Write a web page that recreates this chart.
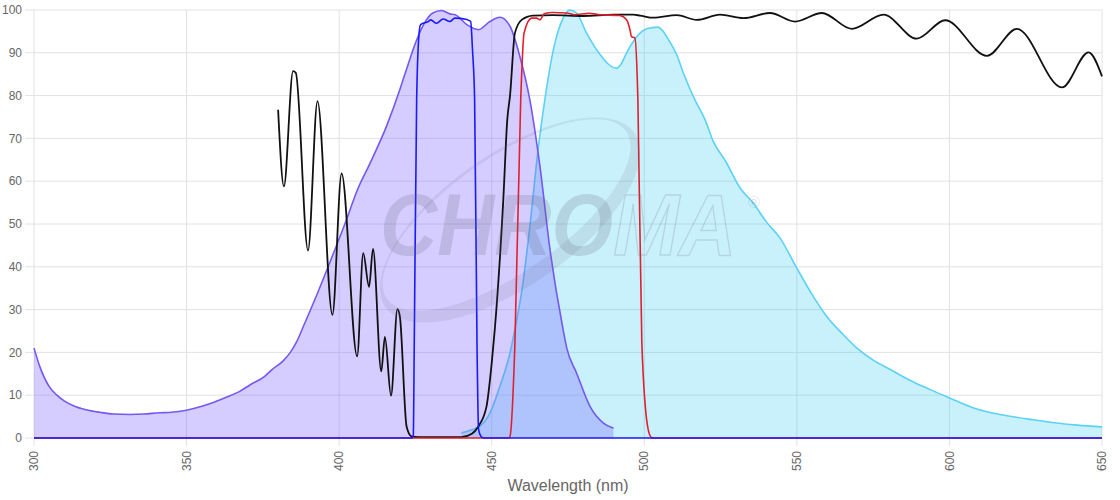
<!DOCTYPE html>
<html>
<head>
<meta charset="utf-8">
<script src="https://cdn.jsdelivr.net/npm/d3@7"></script>
<style>
  body { margin: 0; background: #fff; }
  text { font-family: "Liberation Sans", Arial, sans-serif; }
</style>
</head>
<body>
<script>
const width = 1120;
const height = 500;
const margin = { top: 10, right: 18, bottom: 62, left: 34 };

// [wavelength nm, %]
const excitation = [
  [300, 21], [302, 16.5], [305, 12], [307.5, 10], [310, 8.6], [313.3, 7.4],
  [317, 6.6], [321.6, 6.0], [326, 5.6], [331.4, 5.5], [336, 5.6], [341.2, 5.9],
  [345, 6.0], [350, 6.5], [355, 7.4], [359.2, 8.4], [363, 9.5], [367.4, 10.9],
  [371, 12.5], [375.6, 14.4], [378, 16], [381.5, 17.9], [384, 20], [386.1, 22.5],
  [388.3, 26.1], [393, 34], [397.5, 42], [402.4, 51], [406, 58],
  [410, 64], [415.5, 72.8], [419.9, 81.4], [422, 86], [425.4, 93], [428, 97],
  [430.7, 99.3], [433.6, 99.9], [436.3, 99.1], [438, 98.9], [441.8, 96.6],
  [445.6, 95.4], [449.4, 97.3], [452.7, 98.3], [456, 96.2], [459.2, 89.2],
  [462.5, 79], [465.8, 63.5], [469.1, 44], [473.4, 25.3], [474.6, 21],
  [477.8, 15.2], [482.2, 7.4], [486.6, 3.5], [489.9, 2.3],
];

const emission = [
  [440.1, 1.2], [443, 1.8], [446.1, 2.7], [449.4, 5.8], [452.7, 12.1], [456, 19.9],
  [457.6, 25.3], [460, 35], [462.5, 49.4], [465.2, 67.4], [467.4, 79], [470.2, 90.7],
  [473.4, 98.1], [475.6, 100], [477.8, 99.3], [481.1, 94.6], [485.5, 89.6],
  [488, 87.5], [490.9, 86.4], [492.5, 87.5], [494.2, 90], [498.6, 94.6],
  [500.8, 95.6], [504.6, 96], [505.7, 95.4], [508, 93], [510.6, 89.6],
  [512.8, 85.3], [516.6, 79], [519.9, 74.4], [522.6, 69.3], [526.7, 64.6],
  [531.4, 58.4], [535.7, 54.9], [540, 50.5], [544.5, 46.7], [550, 39.7],
  [555, 33.5], [559.8, 28.4], [565, 24.3], [569.7, 21], [575, 18.2], [580.6, 16],
  [587, 13.5], [593.7, 11.3], [600.2, 9.3], [607.9, 7], [613, 6], [618.8, 5.2],
  [627, 4.3], [635.2, 3.5], [642, 3.0], [650, 2.6],
];

const exciterFilter = [
  [300, 0], [423.8, 0], [424.3, 0.5], [424.6, 20.6], [425.4, 79], [426.2, 94.6],
  [426.7, 96.6], [429.2, 97.3], [430, 97.7], [431.9, 96.9], [434.1, 97.9],
  [436.3, 97.3], [437.9, 98.1], [441.8, 97.8], [443.1, 97.3], [443.7, 90.7],
  [444.4, 79], [445.2, 20.6], [445.7, 2], [446.7, 0.2], [447.5, 0], [650, 0],
];

const dichroic = [
  [380, 76.7], [381.9, 58.8], [384.9, 85.7], [385.8, 85.3], [389.8, 43.8],
  [392.9, 78.7], [397.8, 28.8], [400.8, 61.8], [405.9, 19.1], [407.9, 43.2],
  [409.8, 35.3], [411.1, 44.2], [413.8, 15.6], [415, 23.6], [417, 9.9],
  [419.1, 30.1], [419.9, 28.4], [422.1, 2.7], [423.7, 0.4], [426, 0.2],
  [440, 0.2], [443.5, 1], [445.6, 2.7], [448.3, 7.4], [450, 17.5], [451, 25.3],
  [453.8, 55.7], [455.1, 74.4], [456, 80], [457.6, 94.6], [459.8, 97.7],
  [463.5, 98.7], [470, 98.8], [480, 98.6], [490, 98.9], [496.4, 98.9],
  [498.6, 98.7], [503, 98.2], [510.6, 98.8], [517.2, 97.7], [524.8, 98.9],
  [532.5, 98.1], [541.2, 99.3], [549.4, 97.3], [558.2, 99.3], [568, 95.6],
  [578.4, 98.9], [589.3, 93.3], [598.6, 97.6], [612.3, 89.3], [622.1, 95.6],
  [636.9, 81.9], [645.6, 90.1], [650, 84.5],
];

const emitterFilter = [
  [300, 0], [455.5, 0], [456, 0.4], [457.6, 22], [459.5, 79], [460.6, 94.6],
  [463.1, 98.1], [464.7, 98.1], [465.8, 97.7], [467.2, 99.1], [470, 99.4],
  [474.6, 99.3], [477, 98.9], [482, 99.2], [485.5, 98.9], [492, 98.7],
  [494.2, 97.7], [495.3, 95.4], [495.8, 93.8], [496.9, 93.5], [497.9, 79],
  [499.2, 22], [501.3, 1.9], [502.4, 0.1], [503, 0], [650, 0],
];

const xTicks = [300, 350, 400, 450, 500, 550, 600, 650];
const yTicks = [0, 10, 20, 30, 40, 50, 60, 70, 80, 90, 100];

const svg = d3
  .select("body")
  .append("svg")
  .attr("width", width)
  .attr("height", height);

const x = d3
  .scaleLinear()
  .domain([300, 650])
  .range([margin.left, width - margin.right]);

const y = d3
  .scaleLinear()
  .domain([0, 100])
  .range([height - margin.bottom, margin.top]);

// grid + ticks (chart.js style: grid lines run past the axis)
const grid = svg.append("g");
grid
  .selectAll("line.h")
  .data(yTicks)
  .join("line")
  .attr("class", "h")
  .attr("x1", margin.left - 9)
  .attr("x2", width - margin.right)
  .attr("y1", (d) => y(d))
  .attr("y2", (d) => y(d))
  .attr("stroke", "#e2e2e2")
  .attr("stroke-width", 1);

grid
  .selectAll("line.v")
  .data(xTicks)
  .join("line")
  .attr("class", "v")
  .attr("x1", (d) => x(d))
  .attr("x2", (d) => x(d))
  .attr("y1", margin.top)
  .attr("y2", height - margin.bottom + 8)
  .attr("stroke", "#e2e2e2")
  .attr("stroke-width", 1);

svg
  .append("g")
  .selectAll("text")
  .data(yTicks)
  .join("text")
  .attr("x", margin.left - 12)
  .attr("y", (d) => y(d))
  .attr("dy", "0.35em")
  .attr("text-anchor", "end")
  .attr("font-size", 12)
  .attr("fill", "#666")
  .text((d) => d);

svg
  .append("g")
  .selectAll("text")
  .data(xTicks)
  .join("text")
  .attr("transform", (d) => `translate(${x(d)}, ${height - margin.bottom + 13}) rotate(-90)`)
  .attr("dy", "0.35em")
  .attr("text-anchor", "end")
  .attr("font-size", 12)
  .attr("fill", "#666")
  .text((d) => d);

svg
  .append("text")
  .attr("x", (margin.left + width - margin.right) / 2)
  .attr("y", height - 9)
  .attr("text-anchor", "middle")
  .attr("font-size", 16)
  .attr("fill", "#666")
  .text("Wavelength (nm)");

const line = d3
  .line()
  .x((d) => x(d[0]))
  .y((d) => y(d[1]))
  .curve(d3.curveMonotoneX);

const area = d3
  .area()
  .x((d) => x(d[0]))
  .y0(y(0))
  .y1((d) => y(d[1]))
  .curve(d3.curveMonotoneX);

const plot = svg.append("g");

plot.append("path").datum(emission).attr("d", area).attr("fill", "rgba(40, 200, 245, 0.25)");
plot
  .append("path")
  .datum(emission)
  .attr("d", line)
  .attr("fill", "none")
  .attr("stroke", "#5ad2f6")
  .attr("stroke-width", 1.6);

plot.append("path").datum(excitation).attr("d", area).attr("fill", "rgba(117, 91, 255, 0.3)");
plot
  .append("path")
  .datum(excitation)
  .attr("d", line)
  .attr("fill", "none")
  .attr("stroke", "#7558f0")
  .attr("stroke-width", 1.6);

// watermark: "CHRO" solid, "MA" outlined, done with hard-stop gradients on one text
const defs = svg.append("defs");
const split = 259; // end of "CHRO" in the text's own coordinates
const hardStop = (id, left, right) => {
  const g = defs
    .append("linearGradient")
    .attr("id", id)
    .attr("gradientUnits", "userSpaceOnUse")
    .attr("x1", 0)
    .attr("x2", 420)
    .attr("y1", 0)
    .attr("y2", 0);
  g.append("stop").attr("offset", split / 420).attr("stop-color", left);
  g.append("stop").attr("offset", split / 420).attr("stop-color", right);
};
hardStop("wmFill", "rgba(95, 95, 120, 0.2)", "rgba(0, 0, 0, 0)");
hardStop("wmStroke", "rgba(0, 0, 0, 0)", "rgba(100, 100, 120, 0.2)");

const wm = svg.append("g").attr("pointer-events", "none");
const ring = (rx, ry, dy) =>
  `M ${-rx} ${dy} a ${rx} ${ry} 0 1 0 ${2 * rx} 0 a ${rx} ${ry} 0 1 0 ${-2 * rx} 0 Z`;
wm.append("path")
  .attr("transform", "translate(510, 220) rotate(-35)")
  .attr("d", ring(152, 66, 0) + " " + ring(146, 57, -6))
  .attr("fill-rule", "evenodd")
  .attr("fill", "rgba(110, 110, 130, 0.13)");
wm.append("text")
  .attr("transform", "translate(380, 255) scale(0.9, 1)")
  .attr("font-size", 88)
  .attr("font-weight", "bold")
  .attr("font-style", "italic")
  .attr("fill", "url(#wmFill)")
  .attr("stroke", "url(#wmStroke)")
  .attr("stroke-width", 1.5)
  .text("CHROMA");
wm.append("text")
  .attr("x", 748)
  .attr("y", 208)
  .attr("font-size", 16)
  .attr("fill", "rgba(100, 100, 120, 0.2)")
  .text("®");

plot
  .append("path")
  .datum(dichroic)
  .attr("d", line)
  .attr("fill", "none")
  .attr("stroke", "#111")
  .attr("stroke-width", 1.8);

plot
  .append("path")
  .datum(emitterFilter)
  .attr("d", line)
  .attr("fill", "none")
  .attr("stroke", "#e0202e")
  .attr("stroke-width", 1.6);

plot
  .append("path")
  .datum(exciterFilter)
  .attr("d", line)
  .attr("fill", "none")
  .attr("stroke", "#1a1aff")
  .attr("stroke-width", 1.6);
</script>
</body>
</html>
